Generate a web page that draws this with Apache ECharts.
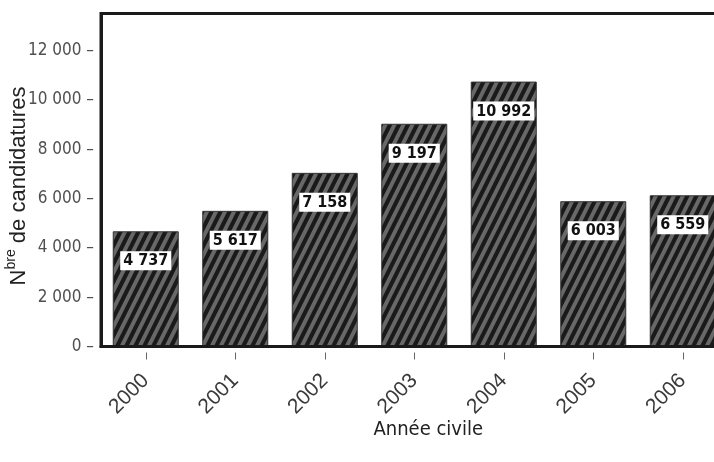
<!DOCTYPE html>
<html><head><meta charset="utf-8">
<script src="https://cdn.jsdelivr.net/npm/echarts@6/dist/echarts.min.js"></script>
<style>html,body{margin:0;padding:0;background:#fff}#c{width:714px;height:462px}</style>
</head><body><div id="c"></div>
<script>
// ---- data ----
const years = ['2000', '2001', '2002', '2003', '2004', '2005', '2006'];
// bar heights as drawn in the reference
const barValues = [4670, 5500, 7040, 9030, 10740, 5890, 6130];
// numbers printed in the label boxes
const labelValues = [4737, 5617, 7158, 9197, 10992, 6003, 6559];
const yTickStep = 2000;
const yMax = 13500;

function fmt(v) { return String(v).replace(/\B(?=(\d{3})+(?!\d))/g, ' '); }

// diagonal stripe pattern tile
function stripeTile() {
  const w = 9, h = 18, ss = 4;
  const cv = document.createElement('canvas');
  cv.width = w; cv.height = h;
  const ctx = cv.getContext('2d');
  const img = ctx.createImageData(w, h);
  const dark = [26, 26, 26], gray = [104, 104, 104];
  for (let y = 0; y < h; y++) for (let x = 0; x < w; x++) {
    let cnt = 0;
    for (let sy = 0; sy < ss; sy++) for (let sx = 0; sx < ss; sx++) {
      const px = x + (sx + 0.5) / ss, py = y + (sy + 0.5) / ss;
      let t = (px + py / 2) % 9; if (t < 0) t += 9;
      if (t < 4.6) cnt++;
    }
    const f = cnt / (ss * ss);
    const i = (y * w + x) * 4;
    for (let k = 0; k < 3; k++) img.data[i + k] = Math.round(dark[k] * f + gray[k] * (1 - f));
    img.data[i + 3] = 255;
  }
  ctx.putImageData(img, 0, 0);
  return cv;
}

const chart = echarts.init(document.getElementById('c'), null, { renderer: 'canvas' });
const narrow = "'Liberation Sans Narrow', 'DejaVu Sans Condensed', 'Liberation Sans', sans-serif";
const sans = "'Liberation Sans', sans-serif";
chart.setOption({
  animation: false,
  backgroundColor: '#fff',
  grid: {
    left: 101, top: 13.5, width: 626.5, height: 333, containLabel: false, outerBoundsMode: 'none',
    show: true, borderColor: '#1a1a1a', borderWidth: 3, backgroundColor: 'transparent'
  },
  xAxis: [{
    type: 'category', data: years, position: 'bottom', z: 5,
    axisLine: { show: true, lineStyle: { color: '#1a1a1a', width: 3 } },
    axisTick: { show: false },
    axisLabel: { rotate: 45, margin: 31, fontSize: 21, color: '#3a3a3a', fontFamily: sans },
    name: 'Année civile', nameLocation: 'middle', nameGap: 73, nameMoveOverlap: false,
    nameTextStyle: { fontSize: 20, color: '#222', fontFamily: narrow, padding: [0, 0, 0, 28] }
  }, {
    type: 'category', data: years, position: 'bottom', offset: 6,
    axisLine: { show: false },
    axisTick: { show: true, alignWithLabel: true, length: 7, lineStyle: { color: '#666', width: 1 } },
    axisLabel: { show: false }
  }],
  yAxis: {
    type: 'value', min: 0, max: yMax, interval: yTickStep, z: 5,
    axisLine: { show: true, lineStyle: { color: '#1a1a1a', width: 3 } },
    axisTick: { show: false },
    splitLine: { show: false },
    axisLabel: {
      margin: 7, fontSize: 17, color: '#505050', fontFamily: narrow,
      formatter: v => (v % yTickStep === 0 ? fmt(v) + ' –' : '')
    },
    name: '{a|N}{s|bre}{a| de candidatures}', nameLocation: 'middle', nameGap: 71, nameMoveOverlap: false,
    nameTextStyle: {
      padding: [0, 12, 0, 0],
      rich: {
        a: { fontSize: 22, color: '#222', fontFamily: sans, lineHeight: 26, verticalAlign: 'bottom' },
        s: { fontSize: 14, color: '#222', fontFamily: sans, lineHeight: 26, verticalAlign: 'top' }
      }
    }
  },
  series: [{
    type: 'bar', xAxisIndex: 0, data: barValues, barWidth: 66,
    itemStyle: { color: { image: stripeTile(), repeat: 'repeat' }, borderColor: '#333', borderWidth: 1 },
    label: {
      show: true, position: 'insideTop', distance: 20,
      formatter: p => fmt(labelValues[p.dataIndex]),
      backgroundColor: '#fff', padding: [2, 3, 1, 3],
      fontSize: 16, fontWeight: 'bold', color: '#111', fontFamily: narrow
    }
  }]
});
</script></body></html>
